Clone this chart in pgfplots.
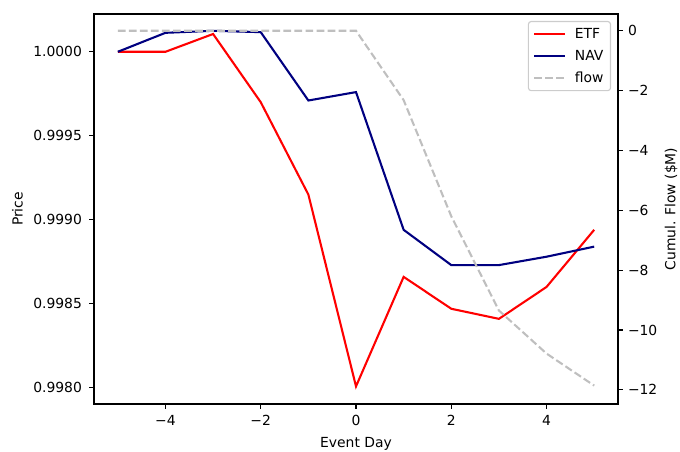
\documentclass[border=0pt]{standalone}
\usepackage{pgfplots}
\pgfplotsset{compat=1.18}
\usepackage{fontspec}
\setmainfont{DejaVu Sans}
\definecolor{flowgray}{RGB}{191,191,191}
\definecolor{navyc}{RGB}{0,0,128}
\pgfplotsset{
  every axis/.append style={
    scale only axis, width=377.28pt, height=280.8pt,
    xmin=-5.5, xmax=5.5,
    axis line style={line width=0.8pt, black},
    every tick/.style={black, line width=0.8pt},
    major tick length=3.5pt,
    tick align=outside,
    tick label style={font=\fontsize{10}{12}\selectfont, inner sep=0pt},
    label style={font=\fontsize{10}{12}\selectfont},
    /pgf/number format/assume math mode=true,
  },
}
\begin{document}
\fontsize{10}{12}\selectfont
\begin{tikzpicture}
\useasboundingbox (-67.68pt,-33.84pt) rectangle (421.92pt,290.88pt);
\begin{axis}[
  ymin=0.997903, ymax=1.000225,
  xtick pos=left, ytick pos=left,
  xtick={-4,-2,0,2,4}, xticklabels={−4,−2,0,2,4},
  ytick={0.998,0.9985,0.999,0.9995,1.0},
  yticklabels={0.9980,0.9985,0.9990,0.9995,1.0000},
  xticklabel style={anchor=base, yshift=-12.3pt},
  yticklabel style={anchor=east, xshift=-5pt},
  xlabel={Event Day}, ylabel={Price},
  xlabel style={at={(axis description cs:0.5,0)}, anchor=base, yshift=-31pt},
  ylabel style={at={(axis description cs:0,0.5)}, anchor=center, yshift=55.2pt},
]
\addplot[red, line width=1.5pt] coordinates {
(-5,1.0000) (-4,1.0000) (-3,1.000106) (-2,0.99970) (-1,0.99915) (0,0.998008)
(1,0.99866) (2,0.99847) (3,0.99841) (4,0.99860) (5,0.99894)};
\addplot[navyc, line width=1.5pt] coordinates {
(-5,1.0000) (-4,1.000113) (-3,1.000125) (-2,1.000117) (-1,0.99971) (0,0.99976)
(1,0.99894) (2,0.99873) (3,0.99873) (4,0.99878) (5,0.99884)};
\end{axis}
\begin{axis}[
  ymin=-12.475, ymax=0.56,
  axis x line=none,
  axis y line*=right,
  ytick={-12,-10,-8,-6,-4,-2,0},
  yticklabels={−12,−10,−8,−6,−4,−2,0},
  yticklabel style={anchor=west, xshift=3.5pt},
  ylabel={Cumul. Flow (\$M)},
  ylabel style={at={(axis description cs:1,0.5)}, anchor=center, yshift=-38.2pt},
  legend cell align=left,
  legend image code/.code={\draw[#1] (0pt,0pt) -- (22pt,0pt);},
  legend style={at={(1,1)}, anchor=north east, xshift=-5pt, yshift=-5pt,
    draw=black!20, line width=0.8pt, rounded corners=2pt, fill=white,
    fill opacity=0.8, text opacity=1,
    font=\fontsize{10}{12}\selectfont,
    inner xsep=3.5pt, inner ysep=3pt, row sep=3.9pt, column sep=5pt,
    nodes={inner sep=1.5pt, text height=7.5pt, text depth=1.5pt}},
]
\addlegendimage{red, line width=1.5pt}
\addlegendentry{ETF}
\addlegendimage{navyc, line width=1.5pt}
\addlegendentry{NAV}
\addplot[flowgray, line width=1.5pt, dash pattern=on 5.55pt off 2.4pt] coordinates {
(-5,0) (-4,0) (-3,0) (-2,0) (-1,0) (0,0) (1,-2.32) (2,-6.20) (3,-9.35) (4,-10.79) (5,-11.86)};
\addlegendentry{flow}
\end{axis}
\end{tikzpicture}
\end{document}
